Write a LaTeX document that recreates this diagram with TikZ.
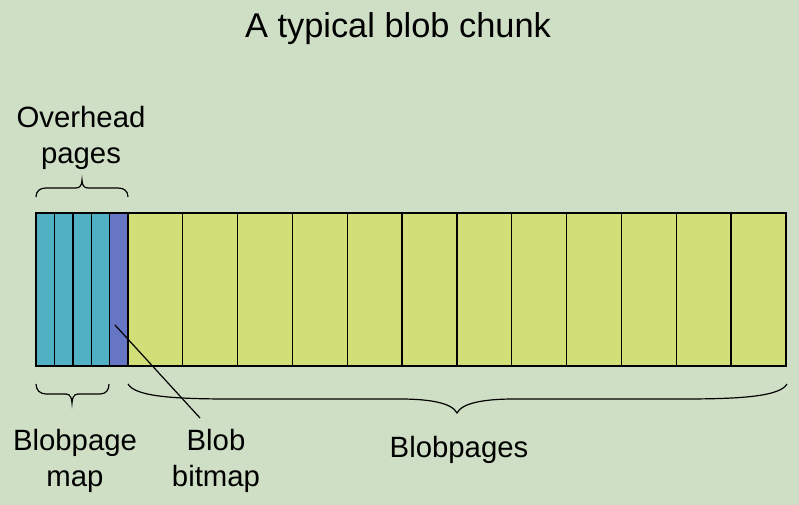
\documentclass[tikz,border=0pt]{standalone}
\usepackage{fontspec}
\setmainfont{Liberation Sans}
\definecolor{bgc}{RGB}{207,223,197}
\definecolor{cyanc}{RGB}{80,176,196}
\definecolor{bluec}{RGB}{102,117,196}
\definecolor{greenc}{RGB}{208,223,120}
\tikzset{
  cellbox/.style={draw=black, line width=1pt},
  bracepath/.style={draw=black, line width=0.9pt},
  lbl/.style={inner sep=0pt, align=center, font=\fontsize{22}{26.7}\selectfont},
  ttl/.style={inner sep=0pt, font=\fontsize{25.8}{30}\selectfont},
}
\begin{document}
\begin{tikzpicture}[x=0.75pt, y=-0.75pt]
\fill[bgc] (0,0) rectangle (799,505);
\useasboundingbox (0,0) rectangle (799,505);
% title
\node[ttl, anchor=base] (title) at (398,38) {A typical blob chunk};
% overhead cells
\foreach \i in {0,...,3}{
  \path[cellbox, fill=cyanc] ({36+\i*18.425},213) rectangle ({36+(\i+1)*18.425},366);
}
\path[cellbox, fill=bluec] (109.7,213) rectangle (128,366);
\foreach \i in {0,...,11}{
  \path[cellbox, fill=greenc] ({128+\i*54.83},213) rectangle ({128+(\i+1)*54.83},366);
}
% braces
\draw[bracepath] (36,197) .. controls (36,191) and (40,188) .. (46,188) -- (76,188)
  .. controls (80,188) and (82,185) .. (82,180)
  .. controls (82,185) and (84,188) .. (88,188) -- (118,188)
  .. controls (124,188) and (128,191) .. (128,197);
\draw[bracepath] (36,384) .. controls (36,390) and (40,394) .. (46,394) -- (66,394)
  .. controls (70,394) and (72,398) .. (72,403)
  .. controls (72,398) and (74,394) .. (78,394) -- (100,394)
  .. controls (106,394) and (109,390) .. (109,384);
\draw[bracepath] (128,384) .. controls (135,396) and (170,399) .. (230,399) -- (400,399)
  .. controls (430,399) and (452,403) .. (457,413)
  .. controls (462,403) and (484,399) .. (514,399) -- (684,399)
  .. controls (744,399) and (780,396) .. (787,384);
% labels
\node[lbl] (overhead) at (81,138) {Overhead\\pages};
\node[lbl] (bpmap) at (75,461) {Blobpage\\map};
\node[lbl] (bbitmap) at (216,461) {Blob\\bitmap};
\node[lbl, anchor=base] (bpages) at (459,457) {Blobpages};
% pointer line
\coordinate (bmstart) at (115,325);
\coordinate (bmend) at (200,418);
\draw[line width=0.9pt] (bmstart) -- (bmend);
\end{tikzpicture}
\end{document}
